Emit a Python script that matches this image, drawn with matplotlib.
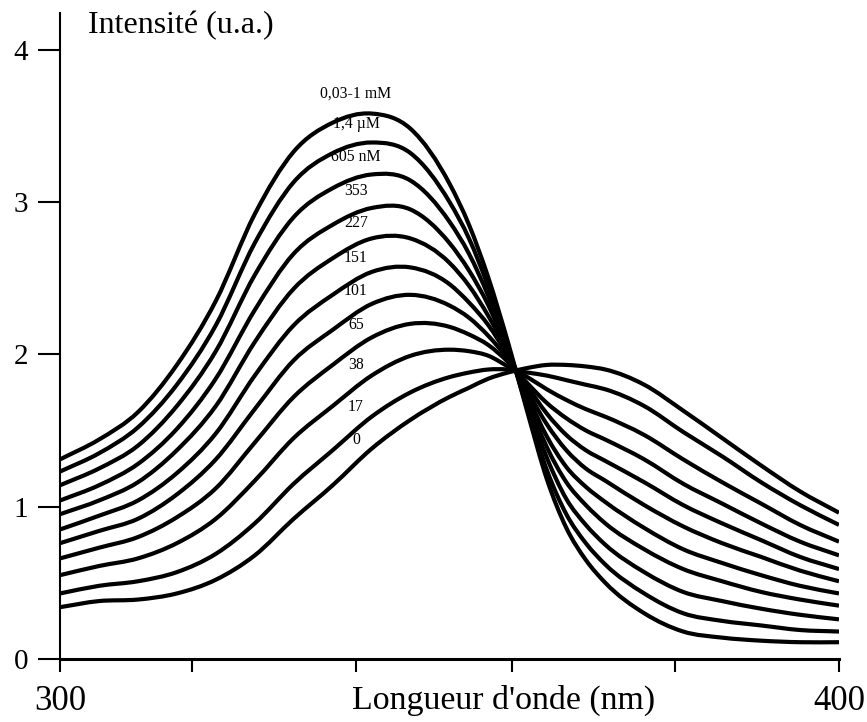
import numpy as np
import matplotlib.pyplot as plt
from matplotlib.path import Path
from matplotlib.patches import PathPatch

plt.rcParams['font.family'] = ['Liberation Serif', 'DejaVu Serif']

# wavelength grid (nm), denser around the crossing point
wavelengths = [300, 305, 310, 315, 320, 325, 330, 335, 340, 345, 350, 352.5, 355,
               357.5, 360, 362.5, 365, 367.5, 370, 375, 380, 385, 390, 395, 400]

conc_labels = ["0,03-1 mM", "1,4 \u00b5M", "605 nM", "353", "227", "151",
               "101", "65", "38", "17", "0"]

# fluorescence intensity (a.u.) for each concentration
i_1mM = [1.31, 1.44, 1.62, 1.93, 2.35, 2.92, 3.33, 3.52, 3.58, 3.48, 3.12, 2.85, 2.50,
         2.08, 1.62, 1.18, 0.86, 0.65, 0.50, 0.30, 0.18, 0.14, 0.12, 0.11, 0.11]
i_1400 = [1.23, 1.35, 1.52, 1.80, 2.19, 2.73, 3.13, 3.32, 3.39, 3.32, 3.00, 2.76, 2.44,
          2.06, 1.64, 1.24, 0.95, 0.76, 0.62, 0.43, 0.30, 0.25, 0.22, 0.19, 0.18]
i_605 = [1.14, 1.25, 1.40, 1.66, 2.02, 2.52, 2.90, 3.09, 3.18, 3.14, 2.87, 2.66, 2.38,
         2.04, 1.67, 1.32, 1.05, 0.88, 0.75, 0.57, 0.44, 0.38, 0.33, 0.29, 0.26]
i_353 = [1.04, 1.14, 1.28, 1.51, 1.84, 2.29, 2.66, 2.85, 2.96, 2.95, 2.73, 2.55, 2.32,
         2.02, 1.70, 1.39, 1.16, 1.01, 0.89, 0.72, 0.59, 0.51, 0.44, 0.39, 0.35]
i_227 = [0.95, 1.04, 1.16, 1.37, 1.66, 2.08, 2.43, 2.63, 2.76, 2.76, 2.60, 2.45, 2.25,
         2.01, 1.73, 1.46, 1.26, 1.13, 1.03, 0.86, 0.72, 0.63, 0.55, 0.48, 0.43]
i_151 = [0.85, 0.94, 1.04, 1.22, 1.48, 1.86, 2.19, 2.39, 2.54, 2.57, 2.46, 2.34, 2.19,
         1.99, 1.76, 1.54, 1.37, 1.25, 1.17, 1.01, 0.87, 0.76, 0.67, 0.58, 0.51]
i_101 = [0.76, 0.84, 0.92, 1.08, 1.31, 1.64, 1.96, 2.16, 2.33, 2.39, 2.32, 2.24, 2.12,
         1.97, 1.79, 1.61, 1.47, 1.37, 1.30, 1.16, 1.01, 0.89, 0.78, 0.67, 0.59]
i_65 = [0.66, 0.73, 0.80, 0.93, 1.12, 1.42, 1.72, 1.93, 2.11, 2.20, 2.18, 2.13, 2.06,
        1.95, 1.81, 1.68, 1.58, 1.50, 1.44, 1.31, 1.15, 1.02, 0.89, 0.77, 0.68]
i_38 = [0.55, 0.61, 0.66, 0.76, 0.92, 1.17, 1.45, 1.66, 1.86, 1.99, 2.03, 2.02, 1.99,
        1.92, 1.85, 1.77, 1.70, 1.64, 1.59, 1.47, 1.31, 1.16, 1.02, 0.88, 0.77]
i_17 = [0.43, 0.48, 0.51, 0.57, 0.69, 0.89, 1.15, 1.37, 1.59, 1.75, 1.85, 1.88, 1.90,
        1.90, 1.88, 1.86, 1.83, 1.80, 1.77, 1.66, 1.49, 1.33, 1.16, 1.01, 0.88]
i_0 = [0.34, 0.38, 0.39, 0.43, 0.52, 0.68, 0.92, 1.14, 1.38, 1.57, 1.72, 1.78, 1.84,
       1.88, 1.91, 1.93, 1.93, 1.92, 1.90, 1.80, 1.63, 1.45, 1.27, 1.10, 0.96]

spectra = [i_1mM, i_1400, i_605, i_353, i_227, i_151, i_101, i_65, i_38, i_17, i_0]

label_wl = 338
y_ticks = [0, 1, 2, 3, 4]
x_minor = [317, 338, 358, 379]


def smooth_path(xs, ys):
    # cubic Hermite through the points (slopes from neighbours), as Bezier segments
    x = np.asarray(xs, dtype=float)
    y = np.asarray(ys, dtype=float)
    m = np.gradient(y, x)
    verts = [(x[0], y[0])]
    codes = [Path.MOVETO]
    for i in range(len(x) - 1):
        h = x[i + 1] - x[i]
        verts += [(x[i] + h / 3, y[i] + m[i] * h / 3),
                  (x[i + 1] - h / 3, y[i + 1] - m[i + 1] * h / 3),
                  (x[i + 1], y[i + 1])]
        codes += [Path.CURVE4, Path.CURVE4, Path.CURVE4]
    return Path(verts, codes)


fig = plt.figure(figsize=(8.67, 7.22), dpi=100)
ax = fig.add_axes([0.0692, 0.0873, 0.8985, 0.8947])

for spec, lab in zip(spectra, conc_labels):
    patch = PathPatch(smooth_path(wavelengths, spec), facecolor="none",
                      edgecolor="black", lw=3.0, joinstyle="round", capstyle="butt")
    ax.add_patch(patch)
    y_lab = np.interp(label_wl, wavelengths, spec) + 0.1
    ax.text(label_wl, y_lab, lab, ha="center", va="bottom", fontsize=11.3)

ax.set_xlim(300, 400)
ax.set_ylim(0, 4.24)

for side in ["top", "right"]:
    ax.spines[side].set_visible(False)
ax.spines["left"].set_linewidth(1.5)
ax.spines["bottom"].set_linewidth(2.2)

ax.set_yticks(y_ticks)
ax.set_yticklabels([str(v) for v in y_ticks])
ax.tick_params(axis="y", direction="out", length=16, width=1.5, pad=7, labelsize=21)

ax.set_xticks([300, 400])
ax.set_xticklabels(["300", "400"])
ax.set_xticks(x_minor, minor=True)
ax.tick_params(axis="x", which="major", direction="out", length=9, width=1.5,
               pad=10, labelsize=25)
ax.tick_params(axis="x", which="minor", direction="out", length=9, width=1.5)

ax.text(0.569, -0.0635, "Longueur d'onde (nm)", transform=ax.transAxes,
        ha="center", va="center", fontsize=24.4)
ax.text(0.036, 0.981, "Intensit\u00e9 (u.a.)", transform=ax.transAxes,
        ha="left", va="center", fontsize=23)

fig.savefig("out.png", dpi=100)
